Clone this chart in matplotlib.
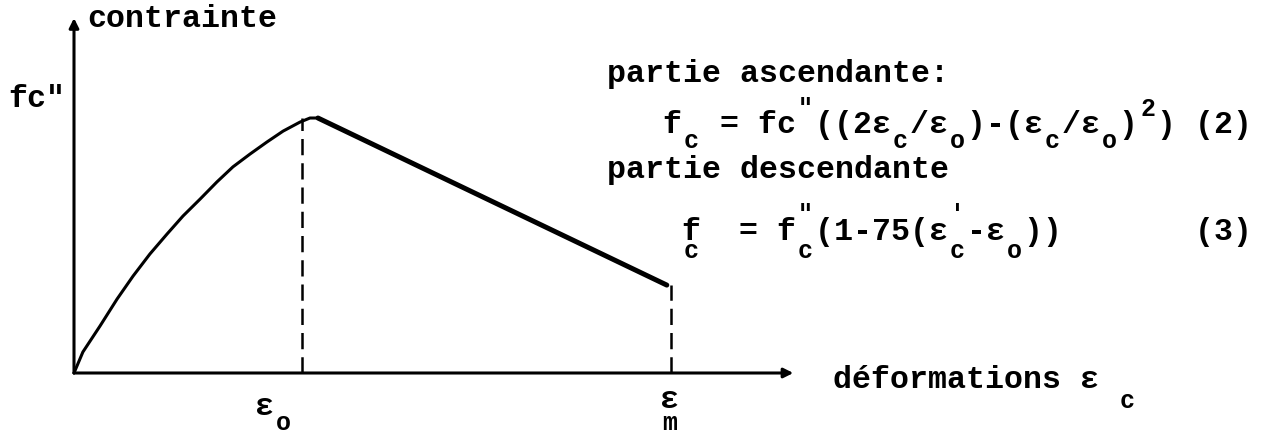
import matplotlib.pyplot as plt

# courbe contrainte-deformation en unites reduites (eps/eps0, sigma/fc")
eps_asc = [0.0, 0.039, 0.114, 0.189, 0.259, 0.333, 0.408, 0.478, 0.553,
           0.627, 0.697, 0.772, 0.846, 0.917, 0.991, 1.035, 1.070]
sig_asc = [0.0, 0.077, 0.172, 0.271, 0.355, 0.436, 0.509, 0.575, 0.637,
           0.700, 0.755, 0.802, 0.846, 0.886, 0.919, 0.934, 0.934]
eps_desc = [1.070, 2.60]
sig_desc = [0.934, 0.322]

eps_0 = 1.0
eps_m = 2.62
sig_0 = 0.934
sig_m = 0.322

# textes (lignes principales, indices et exposants alignes en colonnes)
lab_y = "contrainte"
lab_fc = 'fc"'
lab_x = "déformations ε"
lab_x_sub = "               c"
titre_asc = "partie ascendante:"
titre_desc = "partie descendante"
eq2_main = "f  = fc ((2ε /ε )-(ε /ε ) ) (2)"
eq2_sub = " c          c  o    c  o"
eq2_sup = '       "                 2'
eq3_main = "f  = f (1-75(ε -ε ))       (3)"
eq3_sub = "c     c       c  o"
eq3_sup = '      "       \''

W, H = 1264, 435
PITCH = 19.0
FONT = ['Liberation Mono', 'DejaVu Sans Mono']
BIG = 22.8
SMALL = 18

fig = plt.figure(figsize=(W / 100, H / 100), dpi=100)
ax = fig.add_axes([0, 0, 1, 1])
# origine a (74, 374) px ; 228 px par eps0, 273 px par fc"
ax.set_xlim(-74 / 228, (W - 74) / 228)
ax.set_ylim(-(H - 374) / 273, 374 / 273)
ax.axis('off')

# axes avec fleches
arrow = dict(arrowstyle='-|>', lw=2.2, color='black', mutation_scale=14,
             shrinkA=0, shrinkB=0)
ax.annotate('', xy=(0, 1.30), xytext=(0, 0), arrowprops=arrow)
ax.annotate('', xy=(3.155, 0), xytext=(0, 0), arrowprops=arrow)

# branches ascendante et descendante
ax.plot(eps_asc, sig_asc, color='black', lw=2.2, solid_capstyle='round',
        solid_joinstyle='round')
ax.plot(eps_desc, sig_desc, color='black', lw=3.6, solid_capstyle='round')

# reperes en tirets
ax.plot([eps_0, eps_0], [0, sig_0], color='black', lw=1.8, ls=(0, (6.5, 3.2)))
ax.plot([eps_m, eps_m], [0, sig_m], color='black', lw=1.8, ls=(0, (6.5, 3.2)))


def txt(x, y, s, size=BIG):
    fig.text(x / W, 1 - y / H, s, family=FONT, weight='bold', fontsize=size,
             ha='left', va='baseline')


def row(x0, y, s, size=SMALL):
    # un caractere par colonne, centre dans la colonne
    off = (PITCH - 0.6 * size * 100 / 72) / 2
    for i, ch in enumerate(s):
        if ch != ' ':
            txt(x0 + i * PITCH + off, y, ch, size)


txt(87, 27, lab_y)
txt(8, 107, lab_fc)
txt(833, 388, lab_x)
row(833, 408, lab_x_sub)

txt(255, 415, "ε")
row(255, 430, " o")
txt(660, 408, "ε")
row(660, 430, "m")

txt(607, 82, titre_asc)
txt(663, 133, eq2_main)
row(663, 148, eq2_sub)
row(663, 116, eq2_sup)

txt(607, 178, titre_desc)
txt(682, 240, eq3_main)
row(682, 258, eq3_sub)
row(682, 222, eq3_sup)

fig.savefig('out.png', dpi=100, facecolor='white')
